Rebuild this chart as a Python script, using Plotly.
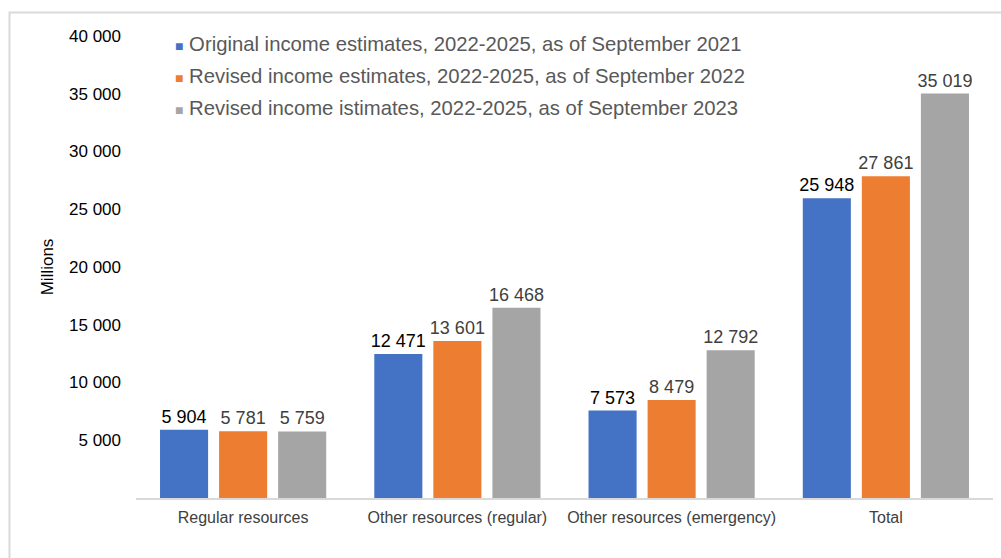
import plotly.graph_objects as go

# Income estimates by resource type, 2022-2025 (millions)
categories = ["Regular resources", "Other resources (regular)",
              "Other resources (emergency)", "Total"]
series_names = [
    "Original income estimates, 2022-2025, as of September 2021",
    "Revised income estimates, 2022-2025, as of September 2022",
    "Revised income istimates, 2022-2025, as of September 2023",
]
est_2021 = [5904, 12471, 7573, 25948]
est_2022 = [5781, 13601, 8479, 27861]
est_2023 = [5759, 16468, 12792, 35019]
y_ticks = [5000, 10000, 15000, 20000, 25000, 30000, 35000, 40000]

series_values = [est_2021, est_2022, est_2023]
colors = ["#4472c4", "#ed7d31", "#a5a5a5"]
label_colors = ["#000000", "#404040", "#404040"]
FONT = "Liberation Sans, Arial, sans-serif"

fig = go.Figure()
for name, vals, col, lcol in zip(series_names, series_values, colors, label_colors):
    fig.add_trace(go.Bar(
        x=categories, y=vals, name=name,
        marker=dict(color=col, line=dict(width=0)),
        texttemplate="%{y:,}", textposition="outside", constraintext="none",
        textfont=dict(family=FONT, size=18, color=lcol),
        cliponaxis=False, showlegend=False,
    ))

# Legend drawn as text rows with coloured square markers
for i, (name, col) in enumerate(zip(series_names, colors)):
    fig.add_annotation(
        xref="paper", yref="paper", x=0.043, y=0.983 - i * 0.0693,
        xanchor="left", yanchor="middle", showarrow=False,
        text=f'<span style="color:{col};font-size:14px">■</span> {name}',
        font=dict(family=FONT, size=20.3, color="#595959"),
    )

# Light frame around the chart
fig.add_shape(type="rect", xref="paper", yref="paper",
              x0=-0.1476, x1=1.02, y0=-0.15, y1=1.0509,
              line=dict(color="#d9d9d9", width=2), fillcolor="rgba(0,0,0,0)",
              layer="below")

fig.update_layout(
    width=1001, height=558,
    margin=dict(l=136, r=8, t=36, b=60),
    paper_bgcolor="white", plot_bgcolor="white",
    separators=". ",
    barmode="group", bargap=0.173, bargroupgap=0.186,
    font=dict(family=FONT),
    xaxis=dict(
        showline=True, linecolor="#d9d9d9", linewidth=1.5,
        ticks="", showgrid=False, ticklabelstandoff=4,
        tickfont=dict(family=FONT, size=16, color="#404040"),
    ),
    yaxis=dict(
        range=[0, 40000], tickvals=y_ticks, tickformat=",",
        showgrid=False, zeroline=False, showline=False, ticks="",
        ticklabelstandoff=14,
        tickfont=dict(family=FONT, size=17, color="#000000"),
        title=dict(text="Millions", font=dict(family=FONT, size=17, color="#000000"),
                   standoff=11),
    ),
)

fig.write_html("out.html")
